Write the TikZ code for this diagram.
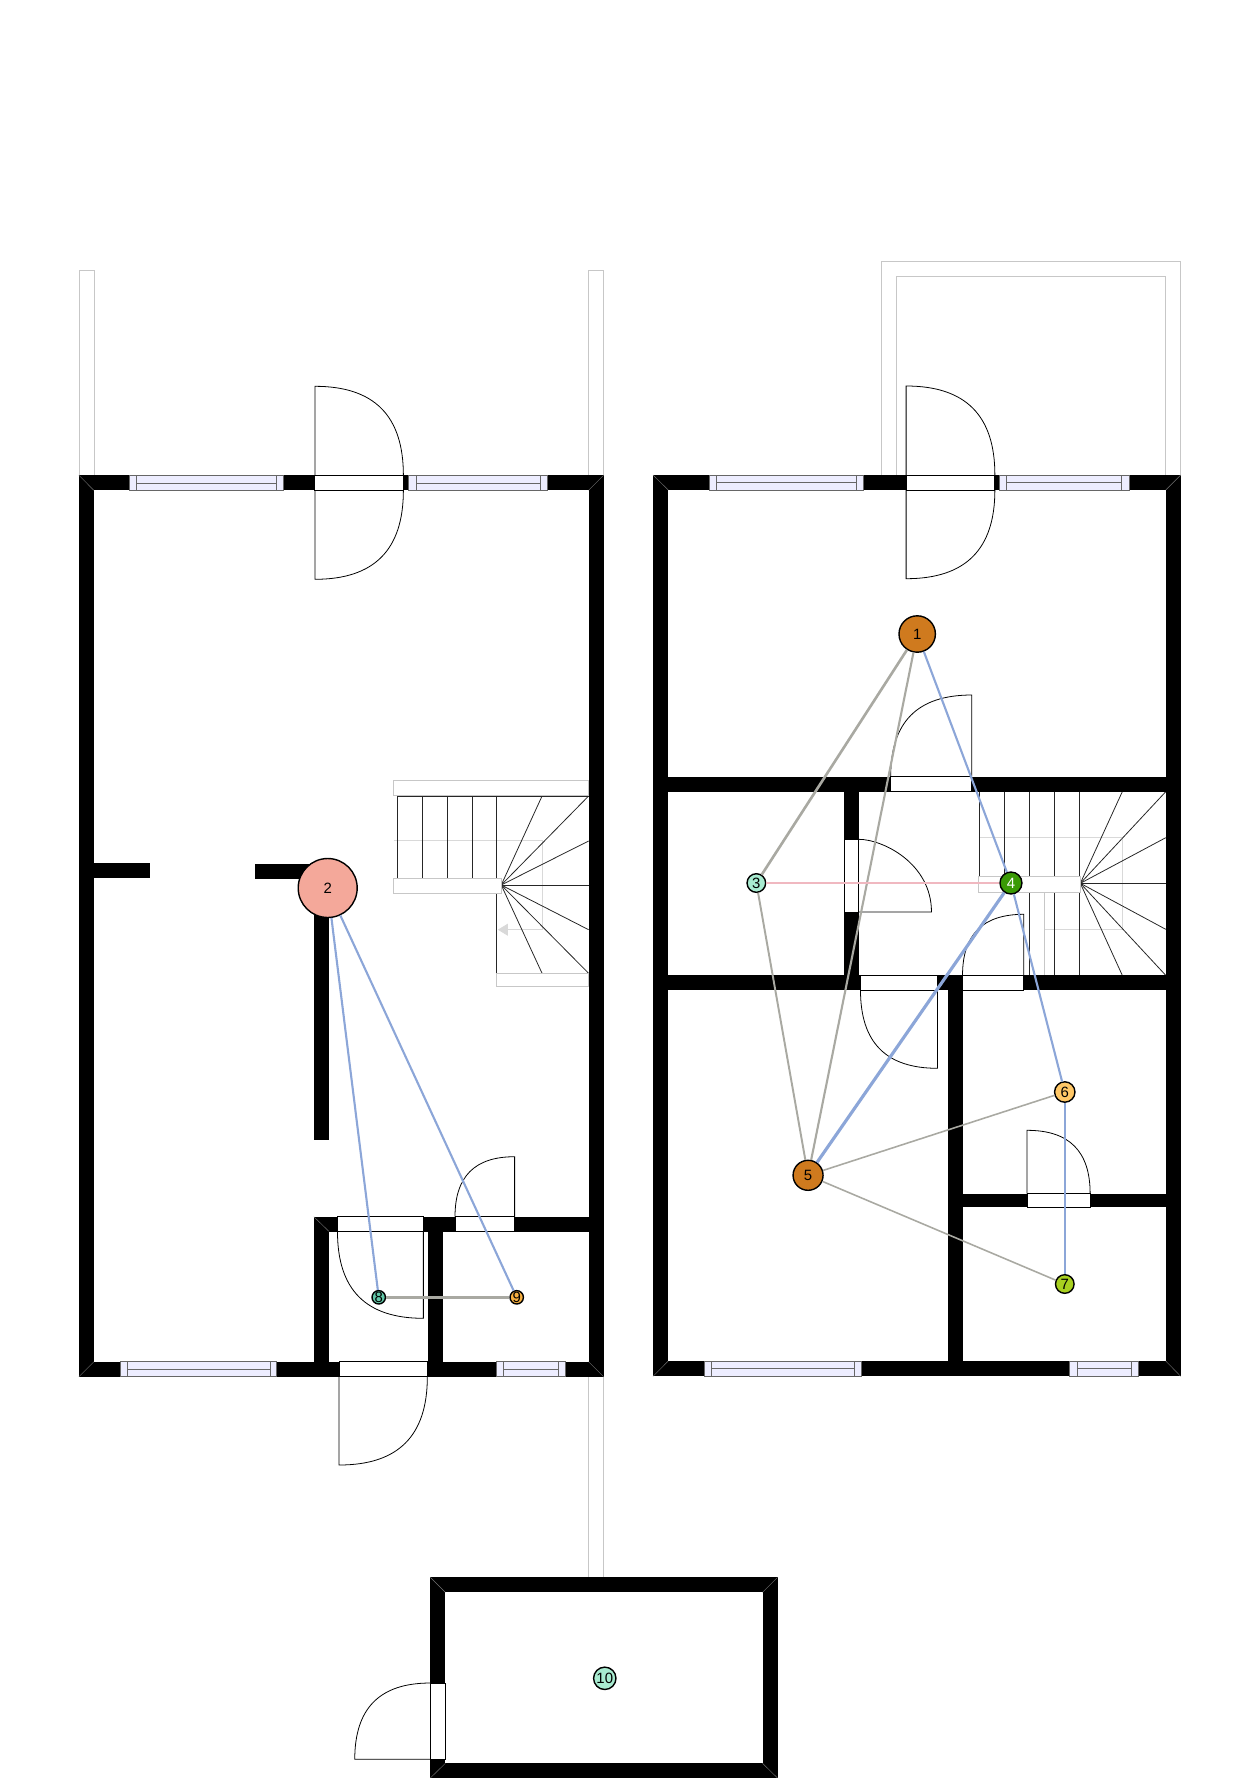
\documentclass[tikz,border=0pt]{standalone}
\usepackage{fontspec}
\setmainfont{Liberation Sans}
\usetikzlibrary{arrows.meta}

\definecolor{roomorange}{HTML}{CF7A1E}
\definecolor{roomsalmon}{HTML}{F4A89A}
\definecolor{roommint}{HTML}{A8EBD0}
\definecolor{roomgreen}{HTML}{3A9A05}
\definecolor{roomyellow}{HTML}{FFC766}
\definecolor{roomlime}{HTML}{A8D020}
\definecolor{roomsea}{HTML}{62C8A8}
\definecolor{roomamber}{HTML}{F8B040}
\definecolor{linkb}{HTML}{8CA6D8}
\definecolor{linkg}{HTML}{A9A9A2}
\definecolor{linkp}{HTML}{F0B8C0}

\tikzset{
  wall/.style={fill=black},
  mitre/.style={draw=black!55,line width=0.25pt},
  pane/.style={draw=black!60,fill=blue!7,line width=0.5pt},
  opening/.style={draw=black,fill=white,line width=0.5pt},
  swing/.style={draw=black,line width=0.45pt},
  rail/.style={draw=black!22,fill=white,line width=0.5pt},
  tread/.style={draw=black!85,line width=0.45pt},
  guide/.style={draw=black!15,line width=0.5pt},
  spot/.style={circle,draw=black,line width=0.8pt,inner sep=0pt,font=\fontsize{8.5}{8.5}\selectfont,minimum size=#1},
  linkblue/.style={draw=linkb,line width=#1},
  linkgrey/.style={draw=linkg,line width=#1},
  linkpink/.style={draw=linkp,line width=#1}
}

\begin{document}
\begin{tikzpicture}[x=0.01998cm,y=-0.02cm]
    \useasboundingbox (0,0) rectangle (1243.2,1778);

    % garden and balcony
    \draw[rail,fill=none] (80,475.3) -- (80,270.3) -- (95,270.3) -- (95,475.3);
    \draw[rail,fill=none] (589.5,475.3) -- (589.5,270.3) -- (604.5,270.3) -- (604.5,475.3);
    \draw[rail,fill=none] (589.7,1376.7) -- (589.7,1577.3);
    \draw[rail,fill=none] (604.3,1376.7) -- (604.3,1577.3);
    \draw[rail,fill=none] (882.5,475) -- (882.5,261.3) -- (1182.5,261.3) -- (1182.5,475);
    \draw[rail,fill=none] (897.5,475) -- (897.5,276.3) -- (1167.5,276.3) -- (1167.5,475);

    % stairs ground floor
    \draw[guide] (394.3,840.3) -- (543,840.3) -- (543,929.7) -- (505,929.7);
    \draw[guide,-{Triangle[length=5.7pt,width=6.8pt,fill=black!15]}] (510,929.7) -- (498.6,929.7);
    \draw[tread] (398.2,796) -- (398.2,878.3);
    \draw[tread] (423.2,796) -- (423.2,878.3);
    \draw[tread] (447.9,796) -- (447.9,878.3);
    \draw[tread] (472.9,796) -- (472.9,878.3);
    \draw[tread] (497.5,796) -- (497.5,878.3);
    \draw[tread] (497.5,893.3) -- (497.5,973.3);
    \draw[tread] (398.2,796) -- (589.5,796);
    \draw[tread] (497.5,973.3) -- (589.5,973.3);
    \draw[tread] (502,885) -- (542.9,796);
    \draw[tread] (502,885) -- (589.5,796);
    \draw[tread] (502,885) -- (589.5,841);
    \draw[tread] (502,885) -- (589.5,885);
    \draw[tread] (502,885) -- (589.5,929.7);
    \draw[tread] (502,885) -- (589.5,973.3);
    \draw[tread] (502,885) -- (542.9,973.3);
    \draw[rail] (394.3,780.7) rectangle (589.5,795.7);
    \draw[rail] (394.3,878.3) rectangle (502,893.3);
    \draw[rail] (497.5,973.3) rectangle (589.5,986.7);

    % stairs first floor
    \draw[guide] (980.4,837.7) -- (1124.3,837.7) -- (1124.3,929.3) -- (1046.4,929.3);
    \draw[tread] (980.4,791.7) -- (980.4,876.7);
    \draw[tread] (1005.7,791.7) -- (1005.7,876.7);
    \draw[tread] (1030.7,791.7) -- (1030.7,876.7);
    \draw[tread] (1056,791.7) -- (1056,876.7);
    \draw[tread] (1081.4,791.7) -- (1081.4,876.7);
    \draw[tread] (1030.7,892) -- (1030.7,975.3);
    \draw[tread] (1056,892) -- (1056,975.3);
    \draw[tread] (1081.4,892) -- (1081.4,975.3);
    \draw[tread] (1082,883.3) -- (1124,791.7);
    \draw[tread] (1082,883.3) -- (1167.5,791.7);
    \draw[tread] (1082,883.3) -- (1167.5,837.7);
    \draw[tread] (1082,883.3) -- (1167.5,883.3);
    \draw[tread] (1082,883.3) -- (1167.5,929.3);
    \draw[tread] (1082,883.3) -- (1167.5,975.3);
    \draw[tread] (1082,883.3) -- (1124,975.3);
    \draw[rail] (980.4,876.7) rectangle (1082,892);
    \draw[rail,fill=none] (1046.4,892) -- (1046.4,975.3);

    % walls ground floor
    \fill[wall] (79,475.3) rectangle (604.5,490.3);
    \fill[wall] (79,475.3) rectangle (94,1376.7);
    \fill[wall] (589.5,475.3) rectangle (604.5,1376.7);
    \fill[wall] (79,1361.7) rectangle (604.5,1376.7);
    \fill[wall] (94,863.3) rectangle (150.7,878.3);
    \fill[wall] (255.4,864) rectangle (329.6,879);
    \fill[wall] (314.3,864) rectangle (329.6,1140.3);
    \fill[wall] (314.3,1216.7) rectangle (329.6,1376.7);
    \fill[wall] (314.3,1216.7) rectangle (604.5,1231.5);
    \fill[wall] (429,1216.7) rectangle (444,1376.7);

    % walls first floor
    \fill[wall] (654,475) rectangle (1182.5,490);
    \fill[wall] (654,475) rectangle (669.3,1376.3);
    \fill[wall] (1167.5,475) rectangle (1182.5,1376.3);
    \fill[wall] (654,1361) rectangle (1182.5,1376.3);
    \fill[wall] (654,776.7) rectangle (1182.5,791.7);
    \fill[wall] (654,975.3) rectangle (1182.5,990);
    \fill[wall] (845.4,776.7) rectangle (860,990);
    \fill[wall] (949.3,975.3) rectangle (964,1376.3);
    \fill[wall] (964,1193.7) rectangle (1182.5,1207);

    % walls shed
    \fill[wall] (431,1577.3) rectangle (778.7,1592.3);
    \fill[wall] (431,1577.3) rectangle (446,1778);
    \fill[wall] (763.7,1577.3) rectangle (778.7,1778);
    \fill[wall] (431,1763.3) rectangle (778.7,1778);

    % corners
    \draw[mitre] (79,475.3) -- (94,490.3);
    \draw[mitre] (604.5,475.3) -- (589.5,490.3);
    \draw[mitre] (79,1376.7) -- (94,1361.7);
    \draw[mitre] (604.5,1376.7) -- (589.5,1361.7);
    \draw[mitre] (314.3,1216.7) -- (329.6,1231.5);
    \draw[mitre] (654,475) -- (669.3,490);
    \draw[mitre] (1182.5,475) -- (1167.5,490);
    \draw[mitre] (654,1376.3) -- (669.3,1361);
    \draw[mitre] (1182.5,1376.3) -- (1167.5,1361);
    \draw[mitre] (431,1577.3) -- (446,1592.3);
    \draw[mitre] (778.7,1577.3) -- (763.7,1592.3);
    \draw[mitre] (431,1778) -- (446,1763.3);
    \draw[mitre] (778.7,1778) -- (763.7,1763.3);

    % windows
    \draw[pane] (129.3,475.3) rectangle (283.6,490.3) (137.1,475.3) -- (137.1,490.3) (276.4,475.3) -- (276.4,490.3) (137.1,483) -- (276.4,483);
    \draw[pane] (409.3,475.3) rectangle (547.9,490.3) (416.8,475.3) -- (416.8,490.3) (541,475.3) -- (541,490.3) (416.8,483) -- (541,483);
    \draw[pane] (120.7,1361.7) rectangle (277,1376.7) (127.9,1361.7) -- (127.9,1376.7) (270.4,1361.7) -- (270.4,1376.7) (127.9,1369) -- (270.4,1369);
    \draw[pane] (497.5,1361.7) rectangle (566.4,1376.7) (504.3,1361.7) -- (504.3,1376.7) (558.9,1361.7) -- (558.9,1376.7) (504.3,1369) -- (558.9,1369);
    \draw[pane] (710.7,475) rectangle (865,490) (717.9,475) -- (717.9,490) (857.5,475) -- (857.5,490) (717.9,482.7) -- (857.5,482.7);
    \draw[pane] (1001,475) rectangle (1131,490) (1008.2,475) -- (1008.2,490) (1123.2,475) -- (1123.2,490) (1008.2,482.7) -- (1123.2,482.7);
    \draw[pane] (705.7,1361) rectangle (862.9,1376.3) (713,1361) -- (713,1376.3) (855.7,1361) -- (855.7,1376.3) (713,1368.3) -- (855.7,1368.3);
    \draw[pane] (1071.4,1361) rectangle (1140.4,1376.3) (1078.6,1361) -- (1078.6,1376.3) (1133.2,1361) -- (1133.2,1376.3) (1078.6,1368.3) -- (1133.2,1368.3);

    % doors
    \draw[opening] (315.4,475.3) rectangle (404,490.3);
    \draw[swing] (315.4,475.3) -- (315.4,386.3) .. controls (374.8,386.3) and (404,415.7) .. (404,475.3);
    \draw[swing] (315.4,490.3) -- (315.4,579.3) .. controls (374.8,579.3) and (404,549.9) .. (404,490.3);
    \draw[opening] (338,1216.7) rectangle (424,1231.5);
    \draw[swing] (424,1231.5) -- (424,1318.3) .. controls (366.4,1318.3) and (338,1289.7) .. (338,1231.5);
    \draw[opening] (455.7,1216.7) rectangle (515.4,1231.5);
    \draw[swing] (515.4,1216.7) -- (515.4,1156.7) .. controls (475.4,1156.7) and (455.7,1176.5) .. (455.7,1216.7);
    \draw[opening] (339.6,1361.7) rectangle (428,1376.7);
    \draw[swing] (339.6,1376.7) -- (339.6,1465) .. controls (398.8,1465) and (428,1435.9) .. (428,1376.7);
    \draw[opening] (907.5,475) rectangle (996.4,490);
    \draw[swing] (907.5,475) -- (907.5,386) .. controls (967,386) and (996.4,415.4) .. (996.4,475);
    \draw[swing] (907.5,490) -- (907.5,578.7) .. controls (967,578.7) and (996.4,549.4) .. (996.4,490);
    \draw[opening] (892,776.7) rectangle (973.2,791.7);
    \draw[swing] (973.2,776.7) -- (973.2,695) .. controls (918.8,695) and (892,722) .. (892,776.7);
    \draw[opening] (845.4,839.3) rectangle (860,912);
    \draw[swing] (860,912) -- (932.9,912) .. controls (932.9,863.3) and (884.1,839.3) .. (860,839.3);
    \draw[opening] (861.8,975.3) rectangle (939,990);
    \draw[swing] (939,990) -- (939,1068.3) .. controls (887.3,1068.3) and (861.8,1042.5) .. (861.8,990);
    \draw[opening] (964,975.3) rectangle (1025.4,990);
    \draw[swing] (1025.4,975.3) -- (1025.4,914.3) .. controls (984.3,914.3) and (964,934.4) .. (964,975.3);
    \draw[opening] (1028.6,1193.7) rectangle (1091.8,1207);
    \draw[swing] (1028.6,1193.7) -- (1028.6,1130.3) .. controls (1070.9,1130.3) and (1091.8,1151.2) .. (1091.8,1193.7);
    \draw[opening] (431,1683) rectangle (446,1759.3);
    \draw[swing] (431,1759.3) -- (355.3,1759.3) .. controls (355.3,1708.2) and (380.3,1683) .. (431,1683);

    % rooms
    \node[spot=0.728cm,fill=roomorange] (n1) at (918.6,634) {1};
    \node[spot=1.18cm,fill=roomsalmon] (n2) at (328.2,888) {2};
    \node[spot=0.372cm,fill=roommint] (n3) at (757.5,883) {3};
    \node[spot=0.44cm,fill=roomgreen,text=white] (n4) at (1012.5,883) {4};
    \node[spot=0.6cm,fill=roomorange] (n5) at (809.3,1175.3) {5};
    \node[spot=0.408cm,fill=roomyellow] (n6) at (1066.4,1092) {6};
    \node[spot=0.372cm,fill=roomlime] (n7) at (1066.4,1284) {7};
    \node[spot=0.24cm,fill=roomsea] (n8) at (379.3,1297.3) {8};
    \node[spot=0.268cm,fill=roomamber] (n9) at (517.5,1297.3) {9};
    \node[spot=0.448cm,fill=roommint] (n10) at (605.7,1678.3) {10};

    % links
    \draw[linkgrey=1.5pt] (n1) -- (n3);
    \draw[linkgrey=1.2pt] (n1) -- (n5);
    \draw[linkblue=1.2pt] (n1) -- (n4);
    \draw[linkpink=1pt] (n3) -- (n4);
    \draw[linkgrey=1.1pt] (n3) -- (n5);
    \draw[linkblue=1.8pt] (n4) -- (n5);
    \draw[linkblue=1.2pt] (n4) -- (n6);
    \draw[linkgrey=0.9pt] (n5) -- (n6);
    \draw[linkgrey=0.9pt] (n5) -- (n7);
    \draw[linkblue=1.3pt] (n6) -- (n7);
    \draw[linkblue=1.2pt] (n2) -- (n8);
    \draw[linkblue=1.2pt] (n2) -- (n9);
    \draw[linkgrey=1.7pt] (n8) -- (n9);

\end{tikzpicture}
\end{document}
